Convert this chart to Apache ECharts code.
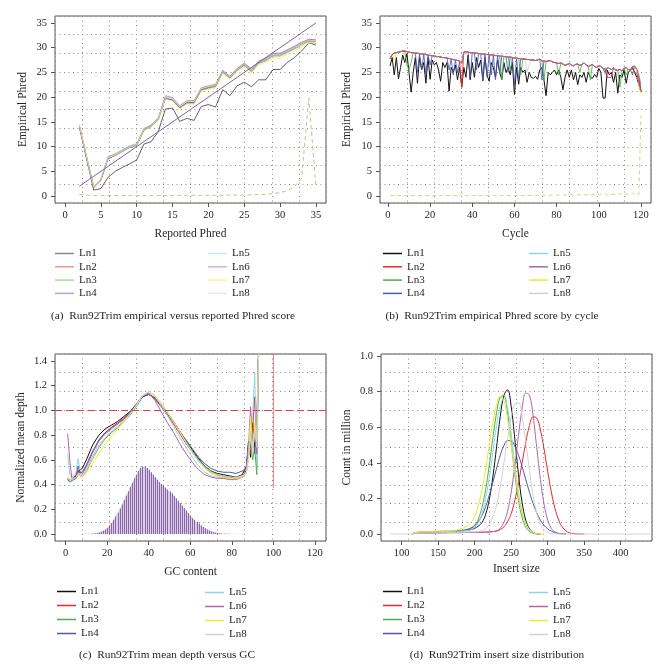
<!DOCTYPE html>
<html><head><meta charset="utf-8">
<script src="https://cdn.jsdelivr.net/npm/echarts@6/dist/echarts.min.js"></script>
<style>html,body{margin:0;padding:0;background:#fff}#c{width:669px;height:669px}</style>
</head><body><div id="c"></div>
<script>
// ---------- shared ----------
const lnNames = ['Ln1','Ln2','Ln3','Ln4','Ln5','Ln6','Ln7','Ln8'];
const lnColors = ['#111111','#E8282B','#4DAF4A','#4A5AA8','#8DD6E6','#B264B4','#EDEA2A','#D2D2D2'];

// ---------- (a) empirical vs reported Phred ----------
const phredX = [2,3,4,5,6,7,8,9,10,11,12,13,14,15,16,17,18,19,20,21,22,23,24,25,26,27,28,29,30,31,32,33,34,35];
const phredTicks = [0,5,10,15,20,25,30,35];
const phredLn1 = [14.0,7.6,1.2,1.5,3.8,5.0,5.8,6.5,7.3,10.5,11.0,13.0,17.6,17.8,15.1,15.7,15.3,18.1,18.5,18.0,21.5,20.3,22.3,23.0,22.1,23.5,23.5,25.6,25.6,27.0,28.0,29.3,31.0,30.5];
const phredLn2 = [14.0,7.8,1.7,3.2,7.6,8.3,9.1,9.9,10.3,13.4,14.1,15.5,19.9,19.5,17.9,18.9,18.9,21.5,21.9,22.2,25.1,23.9,25.5,26.5,25.3,26.9,27.5,28.5,28.5,29.2,29.9,30.8,31.4,31.2];
const phredLn3 = [14.3,8.0,1.9,3.4,7.9,8.5,9.3,10.1,10.5,13.6,14.3,15.7,19.8,19.4,17.8,18.8,18.8,21.4,21.8,22.1,25.0,23.8,25.4,26.4,25.1,26.8,27.3,28.3,28.3,29.0,29.7,30.5,31.3,30.8];
const phredLn4 = [14.1,7.9,1.8,3.2,7.5,8.2,9.0,9.8,10.2,13.3,14.0,15.4,19.7,19.4,17.9,18.9,18.9,21.6,22.0,22.4,25.3,24.1,25.7,26.7,25.5,27.1,27.7,28.7,28.7,29.4,30.2,31.0,31.6,31.5];
const phredLn5 = [14.4,8.0,1.8,3.4,8.0,8.6,9.4,10.2,10.6,13.7,14.4,15.8,20.1,19.7,18.2,19.2,19.2,21.8,22.2,22.5,25.4,24.2,25.8,26.8,25.6,27.2,27.8,28.8,28.8,29.5,30.2,31.0,31.6,31.4];
const phredLn6 = [14.2,7.9,1.7,3.3,7.8,8.4,9.2,10.0,10.4,13.6,14.3,15.7,20.3,19.9,18.3,19.3,19.3,21.9,22.3,22.6,25.4,24.2,25.8,26.9,25.7,27.3,27.9,28.9,28.9,29.6,30.3,31.1,31.7,31.6];
const phredLn7 = [14.5,8.1,1.9,3.5,7.7,8.3,9.1,9.9,10.3,13.4,14.0,15.4,19.6,19.2,17.6,18.6,18.6,21.2,21.6,21.9,24.8,23.6,25.2,26.1,24.9,26.5,27.0,27.9,27.9,28.6,29.3,30.1,31.0,31.0];
const phredLn8 = [14.2,7.9,1.8,3.3,7.8,8.4,9.2,10.0,10.4,13.5,14.2,15.6,20.0,19.6,18.1,19.1,19.1,21.7,22.1,22.4,25.2,24.0,25.6,26.6,25.4,27.0,27.6,28.6,28.6,29.3,30.0,30.9,31.5,31.3];
const phredCount = [0.3,0.2,0.1,0.1,0.1,0.1,0.1,0.1,0.1,0.1,0.1,0.1,0.1,0.15,0.15,0.15,0.15,0.15,0.15,0.15,0.15,0.2,0.2,0.2,0.25,0.3,0.35,0.5,0.7,1.1,1.9,3.6,19.9,1.9];
const phredDiagX = [2,35];
const phredDiagY = [2,35];

// ---------- (b) empirical Phred by cycle ----------
const cycleTicks = [0,20,40,60,80,100,120];
const cycleLn1 = [26.3,28.0,24.5,28.0,23.7,26.0,28.5,27.0,28.8,25.0,
  21.0,25.0,28.0,22.8,28.0,25.5,27.0,22.8,28.0,23.6,
  27.5,26.5,27.0,25.5,23.2,27.0,26.0,27.0,21.2,26.0,
  25.0,26.5,23.5,26.0,22.0,26.0,24.0,28.5,23.5,27.0,
  24.0,28.0,26.0,27.5,23.3,28.0,24.5,23.2,27.0,26.0,
  24.0,27.5,25.0,23.5,27.0,25.0,26.0,24.5,27.0,20.5,
  26.0,22.6,26.0,25.0,25.5,23.0,25.0,24.0,23.8,24.2,
  23.6,25.5,26.0,23.5,20.3,25.0,24.5,25.0,25.5,24.5,
  25.5,24.0,21.5,24.0,25.5,24.0,25.5,23.5,25.0,22.5,
  24.5,24.0,25.0,23.0,25.0,24.0,23.8,24.6,24.0,25.8,
  25.0,19.8,19.8,25.5,24.5,25.0,23.0,25.0,20.8,24.5,
  24.0,25.5,22.8,25.0,25.5,25.8,25.0,24.0,22.5,21.0];
const cycleTop = [27.8,28.6,28.9,29.0,29.1,29.2,29.3,29.3,29.2,29.1,
  29.0,29.0,28.9,28.9,28.8,28.7,28.7,28.6,28.5,28.4,
  28.4,28.3,28.2,28.2,28.1,28.0,28.0,27.9,27.8,27.7,
  27.6,27.5,27.4,27.3,26.8,29.1,29.2,29.1,29.0,29.0,
  28.9,28.9,28.8,28.8,28.7,28.7,28.6,28.6,28.5,28.5,
  28.4,28.4,28.3,28.3,28.2,28.2,28.1,28.1,28.0,27.9,
  27.9,27.8,27.8,27.7,27.7,27.6,27.6,27.5,27.5,27.4,
  27.5,27.7,27.4,27.3,27.2,27.3,27.4,27.1,27.0,26.9,
  26.8,26.9,26.7,26.4,26.6,26.8,26.5,26.3,26.6,26.7,
  26.4,26.6,26.9,26.5,26.2,26.4,26.6,26.2,26.0,26.3,
  26.2,25.8,25.7,25.9,25.8,25.6,25.9,25.5,25.4,25.6,
  25.3,25.8,26.0,25.6,25.5,26.2,26.3,25.5,23.8,21.3];
const cycleLn2Dips = [[35,22.0],[104,24.0],[105,24.0],[106,24.0],[117,25.0],[118,24.8],[119,23.0]];
const cycleLn3Dips = [[9,26.5],[10,25.5],[11,27.0],[54,23.5],[58,25.5],[63,24.5],[74,23.3],[81,24.5],[91,25.0],[96,23.5],[110,22.0],[113,24.5]];
const cycleLn4Dips = [[14,25.0],[16,25.5],[18,24.5],[20,26.5],[29,25.5],[31,24.5],[33,25.0],[39,24.0],[42,25.5],[45,23.5],[47,24.0],[49,24.5],[51,23.5],[53,24.7],[57,25.0],[60,22.5],[62,23.5],[73,23.5],[103,25.0],[116,24.5]];
const cycleLn5Dips = [[103,24.5],[119,23.0],[120,22.0]];
const cycleLn6Dips = [[118,25.8],[119,24.5],[120,22.5]];
const cycleLn7Dips = [[3,27.5],[8,28.5],[119,22.5],[120,20.8]];
const cycleLn8Dips = [[66,25.0],[67,26.5]];
const cycleCountX = [1,34,35,36,60,80,100,103,104,110,111,116,117,119,120];
const cycleCountY = [0.1,0.1,0.6,0.1,0.1,0.2,0.3,0.5,0.2,0.5,0.2,0.6,0.3,0.3,16.3];

// ---------- (c) mean depth vs GC ----------
const gcTicks = [0,20,40,60,80,100,120];
const depthTicks = [0,0.2,0.4,0.6,0.8,1.0,1.2,1.4];
const depthRef = 1.0;
const gcX = [1,2,3,4,5,6,7,8,10,13,16,19,22,25,28,31,34,37,40,43,46,49,52,55,58,61,64,67,70,73,76,79,82,85,87,88,89,90,91,92,93];
const gcLn1 = [.45,.44,.43,.45,.47,.50,.52,.53,.60,.72,.80,.85,.88,.91,.95,.99,1.05,1.11,1.13,1.10,1.04,.97,.90,.82,.75,.68,.61,.55,.51,.49,.48,.47,.46,.48,.55,.75,.62,.90,.70,.80,1.6];
const gcLn2 = [.44,.43,.44,.45,.46,.52,.49,.50,.55,.66,.76,.82,.86,.90,.94,.98,1.04,1.11,1.13,1.09,1.03,.96,.89,.81,.73,.66,.59,.54,.50,.48,.47,.46,.45,.46,.52,.70,.65,.85,1.11,.70,1.6];
const gcLn3 = [.44,.42,.43,.44,.45,.48,.47,.47,.51,.61,.70,.77,.82,.86,.91,.96,1.03,1.11,1.13,1.10,1.04,.98,.91,.83,.75,.67,.60,.55,.51,.48,.46,.45,.45,.46,.50,.65,.75,.60,.70,.48,1.6];
const gcLn4 = [.44,.43,.44,.46,.48,.55,.50,.50,.56,.67,.76,.82,.86,.89,.93,.98,1.04,1.11,1.13,1.10,1.04,.98,.91,.83,.76,.69,.62,.57,.53,.51,.50,.50,.49,.51,.53,.72,.70,.80,.65,.90,1.6];
const gcLn5 = [.65,.48,.46,.47,.50,.61,.52,.50,.53,.63,.72,.78,.83,.87,.92,.97,1.04,1.12,1.15,1.12,1.04,.96,.87,.78,.70,.62,.55,.50,.47,.46,.45,.45,.45,.46,.50,.68,.80,.95,1.31,.60,1.6];
const gcLn6 = [.81,.60,.45,.44,.45,.50,.47,.48,.55,.66,.75,.81,.85,.89,.93,.98,1.05,1.12,1.14,1.08,.99,.90,.82,.73,.65,.58,.52,.48,.46,.45,.45,.44,.44,.46,.50,.70,1.03,.75,.85,.65,1.6];
const gcLn7 = [.46,.44,.44,.45,.46,.48,.47,.46,.50,.57,.65,.73,.79,.85,.91,.97,1.04,1.12,1.15,1.12,1.06,.99,.91,.83,.74,.66,.59,.53,.49,.47,.46,.45,.45,.46,.50,.62,.95,.70,.90,.75,1.6];
const gcLn8 = [.45,.43,.44,.45,.46,.49,.47,.47,.52,.62,.71,.78,.83,.87,.92,.97,1.04,1.12,1.15,1.11,1.05,.98,.90,.82,.74,.66,.59,.54,.50,.48,.47,.46,.46,.47,.49,.60,.80,.65,.85,.70,1.6];
const gcSpikeX = [100,100];
const gcSpikeY = [0.37,2.0];
const gcHistX = [5,6,7,8,9,10,11,12,13,14,15,16,17,18,19,20,21,22,23,24,25,26,27,28,29,30,31,32,33,34,35,36,37,38,39,40,41,42,43,44,45,46,47,48,49,50,51,52,53,54,55,56,57,58,59,60,61,62,63,64,65,66,67,68,69,70,71,72,73,74,75,76,77,78,79,80,81,82,83,84,85,86,87,88,89,90,91,92,93,94,95];
const gcHistY = [.0005,.0005,.0005,.001,.001,.002,.002,.003,.004,.006,.008,.012,.018,.026,.036,.05,.068,.09,.115,.143,.173,.205,.24,.275,.31,.345,.38,.415,.45,.48,.51,.535,.548,.545,.535,.52,.50,.48,.46,.44,.42,.405,.39,.375,.36,.345,.33,.31,.29,.27,.25,.23,.21,.19,.17,.15,.13,.115,.10,.085,.07,.058,.047,.037,.029,.022,.017,.013,.01,.007,.005,.004,.003,.002,.002,.001,.001,.0005,.0005,.0005,.0005,.0005,.0005,.0005,.0005,.0005,.0005,.0005,.0005,.0005,.0005];

// ---------- (d) insert size distribution ----------
const insertTicks = [100,150,200,250,300,350,400];
const countTicks = [0,0.2,0.4,0.6,0.8,1.0];
const insertX = [85,100,110,115,120,130,140,150,160,170,180,190,195,200,205,210,215,220,225,230,235,240,245,250,255,260,265,270,275,280,285,290,295,300,305,310,315,320,325,330,335,340,350,370,400,440];
const N = null;
const insLn1 = [N,N,N,.002,.008,.011,.013,.014,.015,.016,.018,.022,.025,.032,.045,.065,.11,.195,.325,.49,.66,.778,.81,.715,.532,.333,.175,.077,.029,.009,.002,0,N,N,N,N,N,N,N,N,N,N,N,N,N,N];
const insLn2 = [N,N,N,.001,.005,.006,.006,.007,.007,.008,.008,.009,.009,.009,.010,.010,.011,.012,.014,.016,.025,.04,.07,.115,.19,.287,.402,.517,.609,.658,.651,.585,.477,.352,.236,.143,.079,.039,.018,.007,.003,.001,0,N,N,N];
const insLn3 = [N,N,N,.003,.009,.012,.014,.015,.016,.017,.02,.028,.035,.05,.085,.15,.25,.388,.542,.682,.769,.776,.679,.513,.334,.188,.091,.038,.014,.004,.001,0,N,N,N,N,N,N,N,N,N,N,N,N,N,N];
const insLn4 = [N,N,N,.002,.007,.009,.010,.011,.012,.013,.016,.024,.032,.046,.07,.105,.155,.218,.292,.37,.442,.496,.525,.523,.494,.443,.378,.306,.235,.171,.119,.078,.049,.029,.016,.009,.004,.002,0,N,N,N,N,N,N,N];
const insLn5 = [N,N,N,.002,.008,.011,.012,.013,.014,.015,.016,.02,.025,.037,.062,.115,.2,.318,.465,.61,.719,.76,.706,.565,.39,.233,.12,.053,.02,.007,.002,0,N,N,N,N,N,N,N,N,N,N,N,N,N,N];
const insLn6 = [N,N,N,.001,.006,.006,.007,.007,.008,.008,.008,.009,.009,.009,.01,.01,.011,.012,.014,.019,.032,.066,.128,.235,.384,.554,.706,.792,.779,.662,.485,.307,.167,.079,.032,.011,.003,.001,0,N,N,N,N,N,N,N];
const insLn7 = [N,N,N,.003,.009,.013,.015,.016,.017,.019,.028,.045,.065,.1,.16,.25,.365,.5,.63,.728,.774,.748,.647,.501,.347,.215,.12,.059,.026,.01,.004,.001,0,N,N,N,N,N,N,N,N,N,N,N,N,N];
const insLn8 = [0,0,.001,.002,.005,.006,.007,.007,.008,.009,.01,.011,.012,.012,.014,.02,.03,.055,.1,.165,.268,.398,.537,.657,.732,.738,.657,.516,.356,.217,.116,.055,.023,.008,.003,.001,0,0,0,0,0,0,0,0,0,0];

// ---------- build ----------
const FONT = '"Liberation Serif","Times New Roman",serif';
const TXT = '#231f20';
const grids = [
  {left:55, top:16, width:271, height:187},
  {left:380, top:16, width:271, height:187},
  {left:55, top:354, width:271, height:187},
  {left:381, top:354, width:271, height:187}
].map(g => Object.assign({show:true, borderColor:'#555', borderWidth:1, backgroundColor:'transparent'}, g));

const f1 = v => v.toFixed(1);
function mainAxis(p, pos, min, max, ticks, name, gap, fmt) {
  return {gridIndex:p, type:'value', min, max, position:pos,
    name, nameLocation:'middle', nameGap:gap,
    nameTextStyle:{fontFamily:FONT, fontSize:11.5, color:TXT},
    axisLine:{show:false, onZero:false},
    axisTick:{show:true, length:4, customValues:ticks, lineStyle:{color:'#555'}},
    axisLabel:{customValues:ticks, margin:(pos==='bottom'?7:8), fontFamily:FONT, fontSize:10.5, color:TXT, formatter:fmt},
    splitLine:{show:false}};
}
function helperAxis(p, pos) {
  return {gridIndex:p, type:'value', min:0, max:10, interval:1, position:pos,
    axisLine:{show:false, onZero:false}, axisTick:{show:false}, axisLabel:{show:false},
    splitLine:{show:true, lineStyle:{type:[1,3.5], color:'#8a8a8a', width:1}}};
}
const xAxes = [
  mainAxis(0,'bottom',-1.4,36.4,phredTicks,'Reported Phred',25),
  helperAxis(0,'top'),
  mainAxis(1,'bottom',-3.76,124.76,cycleTicks,'Cycle',25),
  helperAxis(1,'top'),
  mainAxis(2,'bottom',-5.1,125.3,gcTicks,'GC content',25),
  helperAxis(2,'top'),
  mainAxis(3,'bottom',71.7,442.8,insertTicks,'Insert size',22),
  helperAxis(3,'top')
];
const yAxes = [
  mainAxis(0,'left',-1.4,36.4,phredTicks,'Empirical Phred',26),
  helperAxis(0,'right'),
  mainAxis(1,'left',-1.4,36.4,phredTicks,'Empirical Phred',27),
  helperAxis(1,'right'),
  mainAxis(2,'left',-0.056,1.456,depthTicks,'Normalized mean depth',28,f1),
  helperAxis(2,'right'),
  mainAxis(3,'left',-0.039,1.011,countTicks,'Count in million',28,f1),
  helperAxis(3,'right')
];

function line(p, name, data, color, extra) {
  return Object.assign({type:'line', name, xAxisIndex:2*p, yAxisIndex:2*p, data, z:3,
    showSymbol:false, symbol:'none', silent:true, emphasis:{disabled:true},
    lineStyle:{width:1, color}, itemStyle:{color}}, extra || {});
}
const zip = (xs, ys) => xs.map((x, i) => [x, ys[i]]);
const series = [];

// (a)
const phredOpacity = 0.65;
const phredY = [phredLn1,phredLn2,phredLn3,phredLn4,phredLn5,phredLn6,phredLn7,phredLn8];
series.push(line(0,'counts',zip(phredX,phredCount),'#BFC88A',{lineStyle:{width:1,color:'#BFC88A',type:[4,3]}}));
phredY.forEach((ys,i) => series.push(line(0,lnNames[i],zip(phredX,ys),lnColors[i],{lineStyle:{width:1,color:lnColors[i],opacity:phredOpacity}})));
series.push(line(0,'diagonal',zip(phredDiagX,phredDiagY),'#7E62B0'));

// (b)
const cycleDips = [null,cycleLn2Dips,cycleLn3Dips,cycleLn4Dips,cycleLn5Dips,cycleLn6Dips,cycleLn7Dips,cycleLn8Dips];
function cycleSeries(i) {
  if (i === 0) return cycleLn1.map((v,k) => [k+1, v]);
  const m = new Map(cycleDips[i]);
  return cycleTop.map((v,k) => [k+1, m.has(k+1) ? m.get(k+1) : v]);
}
series.push(line(1,'counts',zip(cycleCountX,cycleCountY),'#D8D68A',{lineStyle:{width:1,color:'#D8D68A',type:[4,3]}}));
[0,7,4,2,3,6,1,5].forEach(i => series.push(line(1,lnNames[i],cycleSeries(i),lnColors[i],{lineStyle:{width:1,color:lnColors[i],opacity:(i===0?1:0.85)}})));

// (c) GC histogram: light fill plus one thin vertical stroke per GC value
series.push(line(2,'gcfill',zip(gcHistX,gcHistY),'#DACDE7',{z:1, lineStyle:{width:0,opacity:0},areaStyle:{color:'#DACDE7',opacity:1}}));
series.push({type:'custom', name:'gcbars', xAxisIndex:4, yAxisIndex:4, data:zip(gcHistX,gcHistY), silent:true, clip:true, z:2,
  encode:{x:0, y:1},
  renderItem:(params, api) => {
    const x = api.value(0), y = api.value(1);
    const p0 = api.coord([x, 0]);
    const p1 = api.coord([x, y]);
    const px = Math.round(p0[0]) + 0.5;
    return {type:'line', z2:10, shape:{x1:px, y1:p0[1], x2:px, y2:p1[1]},
      style:{stroke:'#8A68A8', lineWidth:1, fill:null}};
  }});
const gcY = [gcLn1,gcLn2,gcLn3,gcLn4,gcLn5,gcLn6,gcLn7,gcLn8];
gcY.forEach((ys,i) => series.push(line(2,lnNames[i],zip(gcX,ys),lnColors[i])));
series.push(line(2,'Ln2',zip(gcSpikeX,gcSpikeY),'#F07A7A'));
series.push(line(2,'ref',[],'#D23',{markLine:{silent:true,symbol:'none',label:{show:false},
  lineStyle:{type:[7,4],color:'#D6404A',width:1},data:[{yAxis:depthRef}]}}));

// (d)
const insY = [insLn1,insLn2,insLn3,insLn4,insLn5,insLn6,insLn7,insLn8];
insY.forEach((ys,i) => series.push(line(3,lnNames[i],zip(insertX,ys),lnColors[i],{smooth:0.4, connectNulls:false})));

// legends
function legend(left, top, idx, gap, opacity) {
  return {left, top, orient:'vertical', itemWidth:19, itemHeight:1.5, icon:'rect', itemGap:gap,
    selectedMode:false, padding:0,
    textStyle:{fontFamily:FONT, fontSize:11, color:TXT, lineHeight:13},
    data: idx.map(i => ({name:lnNames[i], itemStyle:{color:lnColors[i], opacity}}))};
}
const c1 = [0,1,2,3], c2 = [4,5,6,7];
const legends = [
  legend(55,247,c1,0.3,0.5), legend(208,247,c2,0.3,0.5),
  legend(383,247,c1,0.3,1), legend(529,247,c2,0.3,1),
  legend(57,585,c1,1,1), legend(205,586,c2,1,1),
  legend(383,585,c1,1,1), legend(529,586,c2,1,1)
];

function caption(x, y, text) {
  return {type:'text', x, y, silent:true,
    style:{text, font:'11.3px ' + FONT, fill:TXT, textAlign:'center', textVerticalAlign:'middle', align:'center', verticalAlign:'middle'}};
}
const captions = [
  caption(173,316,'(a)  Run92Trim empirical versus reported Phred score'),
  caption(492,316,'(b)  Run92Trim empirical Phred score by cycle'),
  caption(167,655,'(c)  Run92Trim mean depth versus GC'),
  caption(497,655,'(d)  Run92Trim insert size distribution')
];

const chart = echarts.init(document.getElementById('c'), null, {renderer:'canvas'});
chart.setOption({
  animation:false,
  backgroundColor:'#ffffff',
  grid:grids, xAxis:xAxes, yAxis:yAxes,
  legend:legends, series, graphic:captions
});
</script>
</body></html>
